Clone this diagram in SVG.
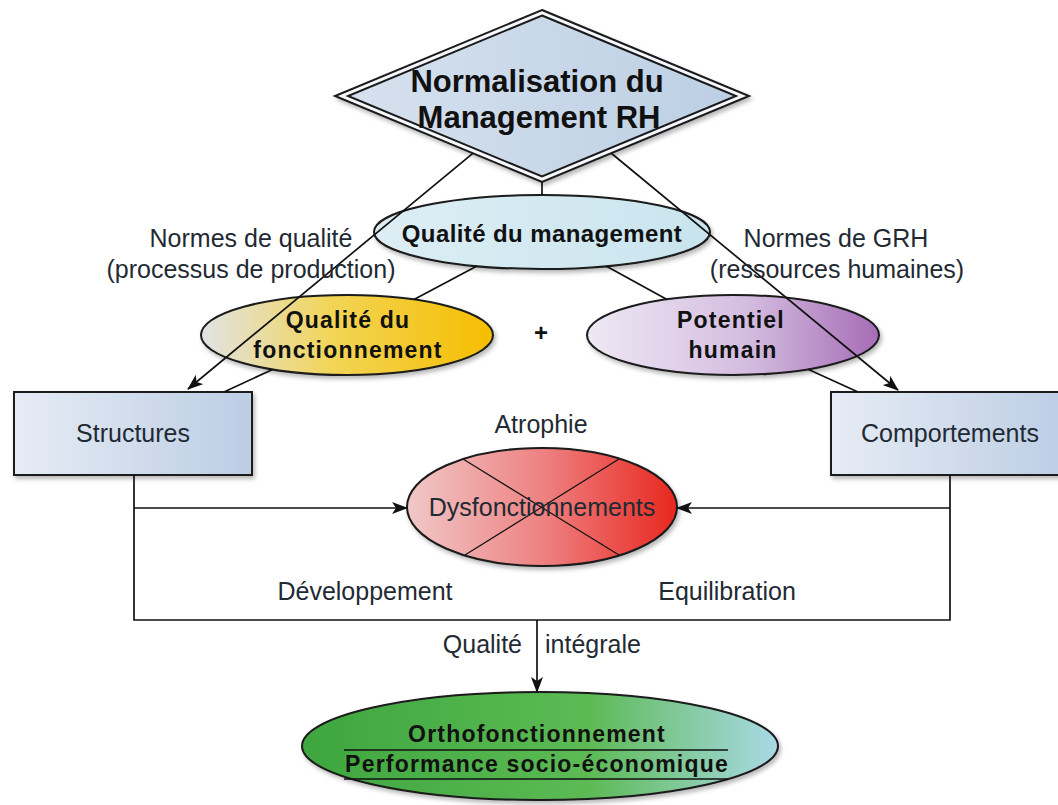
<svg xmlns="http://www.w3.org/2000/svg" width="1058" height="805" viewBox="0 0 1058 805">
<defs>
<style>
.lbl{font-family:"Liberation Sans",Arial,sans-serif;font-size:25px;fill:#1f2a33;}
.b{font-family:"Liberation Sans",Arial,sans-serif;font-weight:bold;fill:#111;}
.bs{font-size:23px;letter-spacing:1.2px;}
.nd{stroke:#1a1a1a;stroke-width:2;}
.cn{fill:none;stroke:#111;stroke-width:1.7;}
.thin{stroke:#111;stroke-width:1.2;}
</style>
<filter id="sh" x="-10%" y="-10%" width="125%" height="130%">
<feDropShadow dx="2" dy="3" stdDeviation="2" flood-color="#000" flood-opacity="0.28"/>
</filter>
<marker id="ar" viewBox="0 0 16 12" refX="15" refY="6" markerWidth="16" markerHeight="12" markerUnits="userSpaceOnUse" orient="auto">
<path d="M0,0 L16,6 L0,12 L4,6 z" fill="#111"/>
</marker>
<linearGradient id="gDia" x1="0" y1="0" x2="1" y2="0"><stop offset="0" stop-color="#d6e1ee"/><stop offset="1" stop-color="#bccfe4"/></linearGradient>
<linearGradient id="gMan" x1="0" y1="0" x2="1" y2="0"><stop offset="0" stop-color="#ddeef4"/><stop offset="1" stop-color="#c9e4ee"/></linearGradient>
<linearGradient id="gFon" x1="0" y1="0" x2="1" y2="0"><stop offset="0" stop-color="#e1e3e6"/><stop offset="0.45" stop-color="#f2d556"/><stop offset="1" stop-color="#f6bd00"/></linearGradient>
<linearGradient id="gPot" x1="0" y1="0" x2="1" y2="0"><stop offset="0" stop-color="#efe8f4"/><stop offset="0.55" stop-color="#d4bde0"/><stop offset="1" stop-color="#a66cb6"/></linearGradient>
<linearGradient id="gBox" x1="0" y1="0" x2="1" y2="0"><stop offset="0" stop-color="#e6ecf5"/><stop offset="1" stop-color="#bccde4"/></linearGradient>
<linearGradient id="gDys" x1="0" y1="0" x2="1" y2="0"><stop offset="0" stop-color="#f1c8c8"/><stop offset="0.5" stop-color="#ee8282"/><stop offset="1" stop-color="#e8271f"/></linearGradient>
<linearGradient id="gOrt" x1="0" y1="0" x2="1" y2="0"><stop offset="0" stop-color="#3ea63e"/><stop offset="0.6" stop-color="#5cba54"/><stop offset="1" stop-color="#a9d9e6"/></linearGradient>
</defs>
<rect width="1058" height="805" fill="#fff"/>

<g id="node-normalisation">
<polygon class="nd" points="542,10 749,96 542,182 335,96" fill="#f4f7fb" filter="url(#sh)"/>
<polygon class="nd" points="542,15.5 736,96 542,176.5 348,96" fill="url(#gDia)"/>
<text class="b" x="537" y="92" font-size="31" text-anchor="middle">Normalisation du</text>
<text class="b" x="539" y="128" font-size="31" text-anchor="middle">Management RH</text>
</g>

<g id="node-qualite-management">
<ellipse class="nd" cx="542" cy="232" rx="168" ry="37" fill="url(#gMan)" filter="url(#sh)"/>
<text class="b" x="542" y="242" font-size="24" letter-spacing="0.4" text-anchor="middle">Qualité du management</text>
</g>

<g id="node-qualite-fonctionnement">
<ellipse class="nd" cx="347" cy="335" rx="146" ry="40" fill="url(#gFon)" filter="url(#sh)"/>
<text class="b bs" x="348" y="328" text-anchor="middle">Qualité du</text>
<text class="b bs" x="348" y="358" text-anchor="middle">fonctionnement</text>
</g>

<g id="node-plus">
<text class="b" x="541" y="341" font-size="24" text-anchor="middle">+</text>
</g>

<g id="node-potentiel-humain">
<ellipse class="nd" cx="733" cy="335" rx="146" ry="40" fill="url(#gPot)" filter="url(#sh)"/>
<text class="b bs" x="731" y="328" text-anchor="middle">Potentiel</text>
<text class="b bs" x="733" y="358" text-anchor="middle">humain</text>
</g>

<g id="node-structures">
<rect class="nd" x="14" y="392" width="238" height="83" fill="url(#gBox)" filter="url(#sh)"/>
<text class="lbl" x="133" y="442" text-anchor="middle">Structures</text>
</g>

<g id="node-comportements">
<rect class="nd" x="831" y="392" width="238" height="83" fill="url(#gBox)" filter="url(#sh)"/>
<text class="lbl" x="950" y="442" text-anchor="middle">Comportements</text>
</g>

<g id="node-atrophie">
<text class="lbl" x="541" y="433" text-anchor="middle">Atrophie</text>
</g>

<g id="node-dysfonctionnements">
<ellipse class="nd" cx="542" cy="507" rx="135" ry="59" fill="url(#gDys)" filter="url(#sh)"/>
<line class="thin" x1="463" y1="459" x2="619" y2="555"/>
<line class="thin" x1="619" y1="459" x2="465" y2="555"/>
<text class="lbl" x="542" y="516" text-anchor="middle">Dysfonctionnements</text>
</g>

<g id="node-orthofonctionnement">
<ellipse class="nd" cx="540" cy="746" rx="238" ry="54" fill="url(#gOrt)" filter="url(#sh)"/>
<text class="b bs" x="537" y="742" text-anchor="middle">Orthofonctionnement</text>
<line x1="344" y1="750" x2="728" y2="750" stroke="#111" stroke-width="1.6"/>
<text class="b bs" x="537" y="772" text-anchor="middle">Performance socio-économique</text>
<line x1="344" y1="779" x2="728" y2="779" stroke="#111" stroke-width="1.6"/>
</g>

<g id="connectors">
<line class="cn" x1="542" y1="182" x2="542" y2="195"/>
<line class="cn" x1="472.8" y1="153.3" x2="188" y2="389" marker-end="url(#ar)"/>
<line class="cn" x1="611.6" y1="153.5" x2="898" y2="390" marker-end="url(#ar)"/>
<line class="cn" x1="477" y1="266" x2="414" y2="299.5"/>
<line class="cn" x1="606" y1="266" x2="667" y2="299.5"/>
<line class="cn" x1="272.6" y1="369.4" x2="224" y2="392"/>
<line class="cn" x1="808" y1="369.3" x2="858" y2="392"/>
<path class="cn" d="M134,475 V620 H950 V475"/>
<line class="cn" x1="134" y1="508" x2="407" y2="508" marker-end="url(#ar)"/>
<line class="cn" x1="950" y1="508" x2="677" y2="508" marker-end="url(#ar)"/>
<line class="cn" x1="537" y1="620" x2="537" y2="692" marker-end="url(#ar)"/>
<text class="lbl" x="251" y="247" text-anchor="middle">Normes de qualité</text>
<text class="lbl" x="251" y="278" text-anchor="middle">(processus de production)</text>
<text class="lbl" x="836" y="247" text-anchor="middle">Normes de GRH</text>
<text class="lbl" x="837" y="278" text-anchor="middle">(ressources humaines)</text>
<text class="lbl" x="365" y="600" text-anchor="middle">Développement</text>
<text class="lbl" x="727" y="600" text-anchor="middle">Equilibration</text>
<text class="lbl" x="522" y="653" text-anchor="end">Qualité</text>
<text class="lbl" x="545" y="653">intégrale</text>
</g>
</svg>
